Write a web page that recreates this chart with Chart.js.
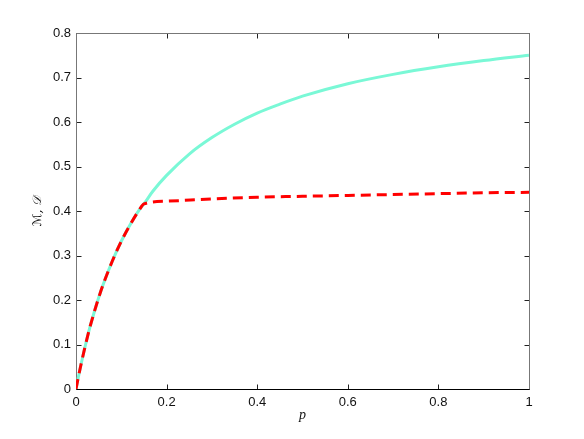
<!DOCTYPE html>
<html>
<head>
<meta charset="utf-8">
<script src="https://cdn.jsdelivr.net/npm/chart.js@4.4.1/dist/chart.umd.min.js"></script>
<style>
  html, body { margin: 0; padding: 0; background: #fff; }
  #wrap { width: 584px; height: 439px; }
</style>
</head>
<body>
<div id="wrap"><canvas id="c" width="584" height="439"></canvas></div>
<script>
// ---- data ----
const pM = [0, 0.005, 0.01, 0.02, 0.03, 0.04, 0.05, 0.06, 0.08, 0.1, 0.12, 0.14, 0.15, 0.17, 0.2, 0.25, 0.3, 0.35, 0.4, 0.45, 0.5, 0.6, 0.7, 0.8, 0.9, 1.0];
const mValues = [0, 0.026, 0.050, 0.095, 0.136, 0.172, 0.205, 0.235, 0.287, 0.332, 0.370, 0.403, 0.416, 0.445, 0.480, 0.528, 0.565, 0.595, 0.620, 0.640, 0.658, 0.686, 0.707, 0.724, 0.738, 0.750];
const pD = [0, 0.005, 0.01, 0.02, 0.03, 0.04, 0.05, 0.06, 0.08, 0.1, 0.12, 0.14, 0.15, 0.2, 0.3, 0.4, 0.5, 0.6, 0.7, 0.8, 0.9, 1.0];
const dValues = [0, 0.026, 0.050, 0.095, 0.136, 0.172, 0.205, 0.235, 0.287, 0.332, 0.370, 0.403, 0.416, 0.422, 0.427, 0.431, 0.433, 0.435, 0.437, 0.439, 0.441, 0.442];
const xTicks = [0, 0.2, 0.4, 0.6, 0.8, 1];
const xTickLabels = ['0', '0.2', '0.4', '0.6', '0.8', '1'];
const yTicks = [0, 0.1, 0.2, 0.3, 0.4, 0.5, 0.6, 0.7, 0.8];
const yTickLabels = ['0', '0.1', '0.2', '0.3', '0.4', '0.5', '0.6', '0.7', '0.8'];
const xTitle = 'p';
const yTitle = 'ℳ, 𝒟';

const toPts = (xs, ys) => xs.map((x, i) => ({ x: x, y: ys[i] }));

const frame = {
  id: 'frame',
  beforeDatasetsDraw(chart) {
    const { ctx, chartArea: a, scales } = chart;
    const L = Math.round(a.left) + 0.5, R = Math.round(a.right) + 0.5;
    const T = Math.round(a.top) + 0.5, B = Math.round(a.bottom) + 0.5;
    const tl = 5;
    ctx.save();
    ctx.lineWidth = 1;
    ctx.strokeStyle = '#222';
    ctx.beginPath();
    xTicks.forEach(v => {
      const x = Math.round(scales.x.getPixelForValue(v)) + 0.5;
      ctx.moveTo(x, B); ctx.lineTo(x, B - tl);
      ctx.moveTo(x, T); ctx.lineTo(x, T + tl);
    });
    yTicks.forEach(v => {
      const y = Math.round(scales.y.getPixelForValue(v)) + 0.5;
      ctx.moveTo(L, y); ctx.lineTo(L + tl, y);
      ctx.moveTo(R, y); ctx.lineTo(R - tl, y);
    });
    ctx.stroke();
    ctx.strokeStyle = '#777';
    ctx.beginPath();
    ctx.moveTo(L, B); ctx.lineTo(L, T); ctx.lineTo(R, T); ctx.lineTo(R, B);
    ctx.stroke();
    ctx.strokeStyle = '#000';
    ctx.beginPath();
    ctx.moveTo(L, B); ctx.lineTo(R, B);
    ctx.stroke();
    ctx.restore();
  }
};

new Chart(document.getElementById('c'), {
  type: 'line',
  data: {
    datasets: [
      {
        label: 'D',
        data: toPts(pD, dValues),
        borderColor: 'rgb(255,0,0)',
        borderWidth: 3,
        borderDash: [10, 6],
        pointRadius: 0,
        cubicInterpolationMode: 'monotone',
        fill: false
      },
      {
        label: 'M',
        data: toPts(pM, mValues),
        borderColor: 'rgb(122,248,214)',
        borderWidth: 3,
        pointRadius: 0,
        cubicInterpolationMode: 'monotone',
        fill: false
      }
    ]
  },
  options: {
    responsive: false,
    animation: false,
    devicePixelRatio: 1,
    layout: { padding: { left: 0, right: 55, top: 33, bottom: 0 } },
    plugins: { legend: { display: false }, tooltip: { enabled: false } },
    scales: {
      x: {
        type: 'linear',
        min: 0, max: 1,
        afterBuildTicks(s) { s.ticks = xTicks.map(v => ({ value: v })); },
        afterFit(s) { s.height = 50; },
        grid: { display: false, drawTicks: false },
        border: { display: false },
        ticks: {
          padding: 6,
          color: '#111',
          font: { family: "'Liberation Sans', Arial, sans-serif", size: 13 },
          maxRotation: 0,
          callback: (v, i) => xTickLabels[i]
        },
        title: {
          display: true,
          text: xTitle,
          color: '#111',
          font: { family: "'Liberation Serif', 'DejaVu Serif', serif", size: 14, style: 'italic' },
          padding: { top: 0, bottom: 15 }
        }
      },
      y: {
        type: 'linear',
        min: 0, max: 0.8,
        afterBuildTicks(s) { s.ticks = yTicks.map(v => ({ value: v })); },
        afterFit(s) { s.width = 76; },
        grid: { display: false, drawTicks: false },
        border: { display: false },
        ticks: {
          padding: 5,
          color: '#111',
          font: { family: "'Liberation Sans', Arial, sans-serif", size: 13 },
          callback: (v, i) => yTickLabels[i]
        },
        title: {
          display: true,
          text: yTitle,
          color: '#111',
          font: { family: "'DejaVu Serif', 'DejaVu Sans', serif", size: 12, style: 'italic' },
          padding: { top: 31, bottom: 0 }
        }
      }
    }
  },
  plugins: [frame]
});
</script>
</body>
</html>
